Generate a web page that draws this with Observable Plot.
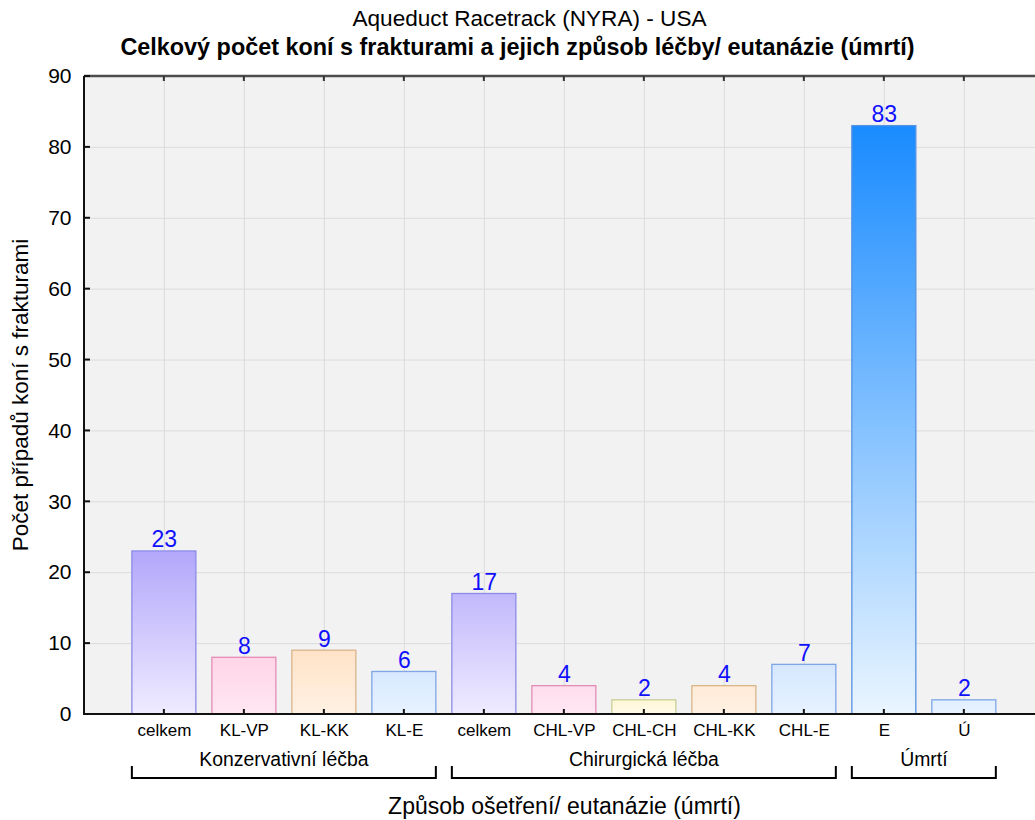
<!DOCTYPE html>
<html><head><meta charset="utf-8">
<script src="https://cdn.jsdelivr.net/npm/d3@7"></script>
<script src="https://cdn.jsdelivr.net/npm/@observablehq/plot@0.6"></script>
<style>
body{margin:0;background:#fff;font-family:"Liberation Sans",Arial,sans-serif;color:#000;}
#wrap{width:1035px;}
.t1{text-align:center;font-size:22.6px;height:32px;line-height:38px;position:relative;left:12px;}
.t2{text-align:center;font-size:23.4px;font-weight:bold;height:28px;line-height:30px;}
</style></head><body>
<div id="wrap">
<div class="t1">Aqueduct Racetrack (NYRA) - USA</div>
<div class="t2">Celkový počet koní s frakturami a jejich způsob léčby/ eutanázie (úmrtí)</div>
<div id="chart"></div>
</div>
<script>
// ---- data ----
const categoryIds = ["K|celkem","K|KL-VP","K|KL-KK","K|KL-E","C|celkem","C|CHL-VP","C|CHL-CH","C|CHL-KK","C|CHL-E","U|E","U|Ú"];
const tickLabels  = ["celkem","KL-VP","KL-KK","KL-E","celkem","CHL-VP","CHL-CH","CHL-KK","CHL-E","E","Ú"];
const values      = [23, 8, 9, 6, 17, 4, 2, 4, 7, 83, 2];
const families    = ["purple","pink","peach","lightblue","purple","pink","yellow","peach","lightblue","blue","lightblue"];
const groupNames  = ["Konzervativní léčba","Chirurgická léčba","Úmrtí"];
const groupFirst  = ["K|celkem","C|celkem","U|E"];
const groupLast   = ["K|KL-E","C|CHL-E","U|Ú"];
const yTicks      = [0,10,20,30,40,50,60,70,80,90];
const xLabel      = "Způsob ošetření/ eutanázie (úmrtí)";
const yLabel      = "Počet případů koní s frakturami";

// ---- styles ----
const palette = {
  purple:    {stroke:"#8c8ce8", stops:[[0,"#efebff"],[23,"#b2a7fa"]]},
  pink:      {stroke:"#e48cb6", stops:[[0,"#ffe7f2"],[8,"#ffd5e7"]]},
  peach:     {stroke:"#d9b58a", stops:[[0,"#fff1e3"],[9,"#ffe3c8"]]},
  lightblue: {stroke:"#7ea6e8", stops:[[0,"#e7f2ff"],[7,"#d5e7ff"]]},
  yellow:    {stroke:"#c8cf98", stops:[[0,"#fffbe8"],[2,"#fff6d6"]]},
  blue:      {stroke:"#5592e4", stops:[[0,"#eaf5ff"],[83,"#198bff"]]}
};

const labelById = new Map(categoryIds.map((id, i) => [id, tickLabels[i]]));
const rows = categoryIds.map((id, i) => ({
  id, label: tickLabels[i], value: values[i],
  fill: `url(#g-${families[i]})`, stroke: palette[families[i]].stroke
}));
const groups = groupNames.map((name, i) => ({name, first: groupFirst[i], last: groupLast[i]}));

function decorations(index, scales, values, dim) {
  const {x, y} = scales;
  const bw = typeof x.bandwidth === "function" ? x.bandwidth() : x.bandwidth;
  const L = dim.marginLeft, R = dim.width - dim.marginRight, T = dim.marginTop, B = dim.height - dim.marginBottom;
  const g = d3.create("svg:g");
  const defs = g.append("defs");
  for (const [name, p] of Object.entries(palette)) {
    const lg = defs.append("linearGradient").attr("id", `g-${name}`)
      .attr("gradientUnits", "userSpaceOnUse")
      .attr("x1", 0).attr("x2", 0)
      .attr("y1", y(p.stops[0][0])).attr("y2", y(p.stops[p.stops.length - 1][0]));
    lg.append("stop").attr("offset", 0).attr("stop-color", p.stops[0][1]);
    lg.append("stop").attr("offset", 1).attr("stop-color", p.stops[p.stops.length - 1][1]);
  }
  g.append("line").attr("x1", L).attr("x2", R).attr("y1", T).attr("y2", T).attr("stroke", "#4d4d4d").attr("stroke-width", 2.5);
  g.append("line").attr("x1", L).attr("x2", L).attr("y1", T).attr("y2", B + 1).attr("stroke", "#111").attr("stroke-width", 2);
  g.append("line").attr("x1", L).attr("x2", R).attr("y1", B).attr("y2", B).attr("stroke", "#111").attr("stroke-width", 2);
  for (const id of categoryIds) {
    const cx = x(id) + bw / 2;
    g.append("line").attr("x1", cx).attr("x2", cx).attr("y1", T).attr("y2", T + 5).attr("stroke", "#333").attr("stroke-width", 2);
    g.append("line").attr("x1", cx).attr("x2", cx).attr("y1", B).attr("y2", B - 5).attr("stroke", "#111").attr("stroke-width", 2);
  }
  for (const v of yTicks) {
    g.append("line").attr("x1", L).attr("x2", L + 6).attr("y1", y(v)).attr("y2", y(v)).attr("stroke", "#111").attr("stroke-width", 2);
  }
  for (const gr of groups) {
    const x1 = x(gr.first), x2 = x(gr.last) + bw;
    g.append("path").attr("d", `M${x1},${B + 52}V${B + 64}H${x2}V${B + 52}`)
      .attr("fill", "none").attr("stroke", "#000").attr("stroke-width", 2);
    g.append("text").attr("x", (x1 + x2) / 2).attr("y", B + 45).attr("dy", "0.35em")
      .attr("text-anchor", "middle").attr("font-size", 19.4).attr("fill", "#000").text(gr.name);
  }
  g.append("text").attr("x", (L + R) / 2 + 5).attr("y", B + 92).attr("dy", "0.35em")
    .attr("text-anchor", "middle").attr("font-size", 23).attr("fill", "#000").text(xLabel);
  g.append("text").attr("transform", `translate(20,${(T + B) / 2}) rotate(-90)`).attr("dy", "0.35em")
    .attr("text-anchor", "middle").attr("font-size", 22.5).attr("fill", "#000").text(yLabel);
  return g.node();
}

const chart = Plot.plot({
  width: 1035, height: 760,
  marginLeft: 84, marginRight: 0, marginTop: 16, marginBottom: 106,
  style: {fontFamily: '"Liberation Sans", Arial, sans-serif', background: "transparent", color: "#000"},
  x: {type: "band", domain: categoryIds, paddingInner: 0.2, paddingOuter: 0.544, align: 0.55, round: false, label: null},
  y: {domain: [0, 90], label: null},
  color: {type: "identity"},
  marks: [
    Plot.frame({fill: "#f2f2f2", stroke: null}),
    Plot.gridY(yTicks, {stroke: "#dcdcdc", strokeOpacity: 1, strokeWidth: 1}),
    Plot.gridX({stroke: "#dcdcdc", strokeOpacity: 1, strokeWidth: 1}),
    Plot.barY(rows, {x: "id", y: "value", fill: "fill", stroke: "stroke", strokeWidth: 1.3}),
    Plot.text(rows, {x: "id", y: "value", text: d => String(d.value), lineAnchor: "bottom", dy: -4, fontSize: 23, fill: "#1010ff"}),
    Plot.axisX({tickSize: 0, tickPadding: 9, fontSize: 17, tickFormat: d => labelById.get(d), label: null}),
    Plot.axisY({ticks: yTicks, tickSize: 0, tickPadding: 13, fontSize: 21, label: null}),
    decorations
  ]
});
document.getElementById("chart").appendChild(chart);
</script>
</body></html>
